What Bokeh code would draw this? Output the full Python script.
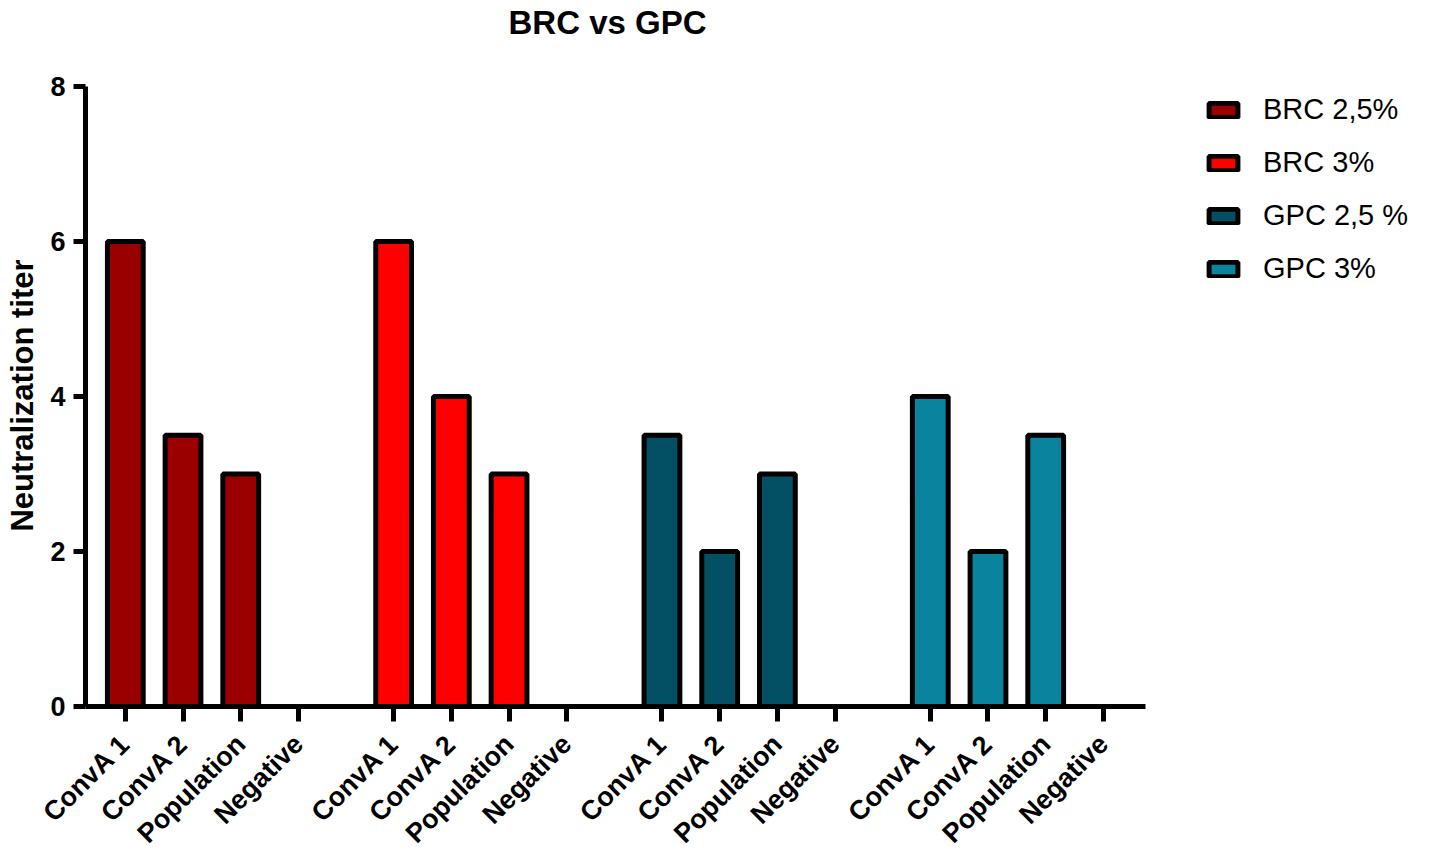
import math
from bokeh.plotting import figure
from bokeh.models import FixedTicker, Legend, LegendItem, ColumnDataSource, Range1d
from bokeh.embed import file_html
from bokeh.resources import INLINE

groups = ["BRC 2,5%", "BRC 3%", "GPC 2,5 %", "GPC 3%"]
categories = ["ConvA 1", "ConvA 2", "Population", "Negative"]
brc_25 = [6, 3.5, 3, 0]
brc_3 = [6, 4, 3, 0]
gpc_25 = [3.5, 2, 3, 0]
gpc_3 = [4, 2, 3.5, 0]
series = [brc_25, brc_3, gpc_25, gpc_3]
colors = ["#9B0000", "#FF0000", "#034F63", "#0A849E"]
y_ticks = [0, 2, 4, 6, 8]
title_text = "BRC vs GPC"
y_label = "Neutralization titer"

GROUP_STEP = 4.65
FONT = "Liberation Sans"
AXIS_START, AXIS_END = -0.69, 17.68   # visible x-axis extent
VIEW_END = 22.48                      # frame extends right to hold the legend
Y_AXIS_END = 8
Y_VIEW_END = 8.58                     # frame extends up, title sits just above it

p = figure(width=1422, height=864, output_backend="svg", toolbar_location=None,
           x_range=Range1d(AXIS_START, VIEW_END), y_range=Range1d(0, Y_VIEW_END),
           min_border_left=85, min_border_right=0, min_border_top=40, min_border_bottom=158,
           title=title_text)
p.outline_line_color = None
p.xgrid.visible = False
p.ygrid.visible = False

tick_pos = []
overrides = {}
legend_items = []
for g, (name, vals, col) in enumerate(zip(groups, series, colors)):
    xs = [g * GROUP_STEP + i for i in range(len(categories))]
    for xv, c in zip(xs, categories):
        tick_pos.append(xv)
        overrides[xv] = c
    src = ColumnDataSource(dict(x=xs, top=vals))
    r = p.vbar(x="x", top="top", bottom=0, width=0.62, source=src,
               fill_color=col, line_color="black", line_width=5)
    legend_items.append(LegendItem(label=name, renderers=[r]))

p.xaxis.ticker = FixedTicker(ticks=tick_pos)
p.xaxis.major_label_overrides = overrides
p.xaxis.major_label_orientation = math.pi / 4
p.xaxis.bounds = (AXIS_START, AXIS_END)
p.yaxis.ticker = FixedTicker(ticks=y_ticks)
p.yaxis.bounds = (0, Y_AXIS_END)

for ax in (p.xaxis, p.yaxis):
    ax.axis_line_width = 5
    ax.axis_line_color = "black"
    ax.major_tick_line_width = 5
    ax.major_tick_line_color = "black"
    ax.major_tick_in = 0
    ax.minor_tick_line_color = None
    ax.major_label_text_font = FONT
    ax.major_label_text_font_style = "bold"
    ax.major_label_text_color = "black"

p.xaxis.major_tick_out = 15
p.yaxis.major_tick_out = 12
p.xaxis.major_label_standoff = 18
p.yaxis.major_label_standoff = 8
p.xaxis.major_label_text_font_size = "27px"
p.yaxis.major_label_text_font_size = "27px"
# trailing no-break spaces centre the label on the 0-8 axis instead of the taller frame
p.yaxis.axis_label = y_label + "\u00a0" * 5
p.yaxis.axis_label_text_font = FONT
p.yaxis.axis_label_text_font_style = "bold"
p.yaxis.axis_label_text_font_size = "31px"
p.yaxis.axis_label_text_color = "black"
p.yaxis.axis_label_standoff = 7

p.title.text_font = FONT
p.title.text_font_size = "33px"
p.title.text_font_style = "bold"
p.title.text_color = "black"
p.title.align = "left"
p.title.offset = 423
p.title.standoff = 2

legend = Legend(items=legend_items, location=(1120, 421))
legend.label_text_font = FONT
legend.label_text_font_size = "29px"
legend.label_text_color = "black"
legend.glyph_width = 36
legend.glyph_height = 18
legend.label_height = 30
legend.spacing = 20
legend.padding = 0
legend.margin = 0
legend.label_standoff = 22
legend.border_line_color = None
legend.background_fill_alpha = 0
p.add_layout(legend, "center")

open("out.html", "w").write(file_html(p, INLINE))
